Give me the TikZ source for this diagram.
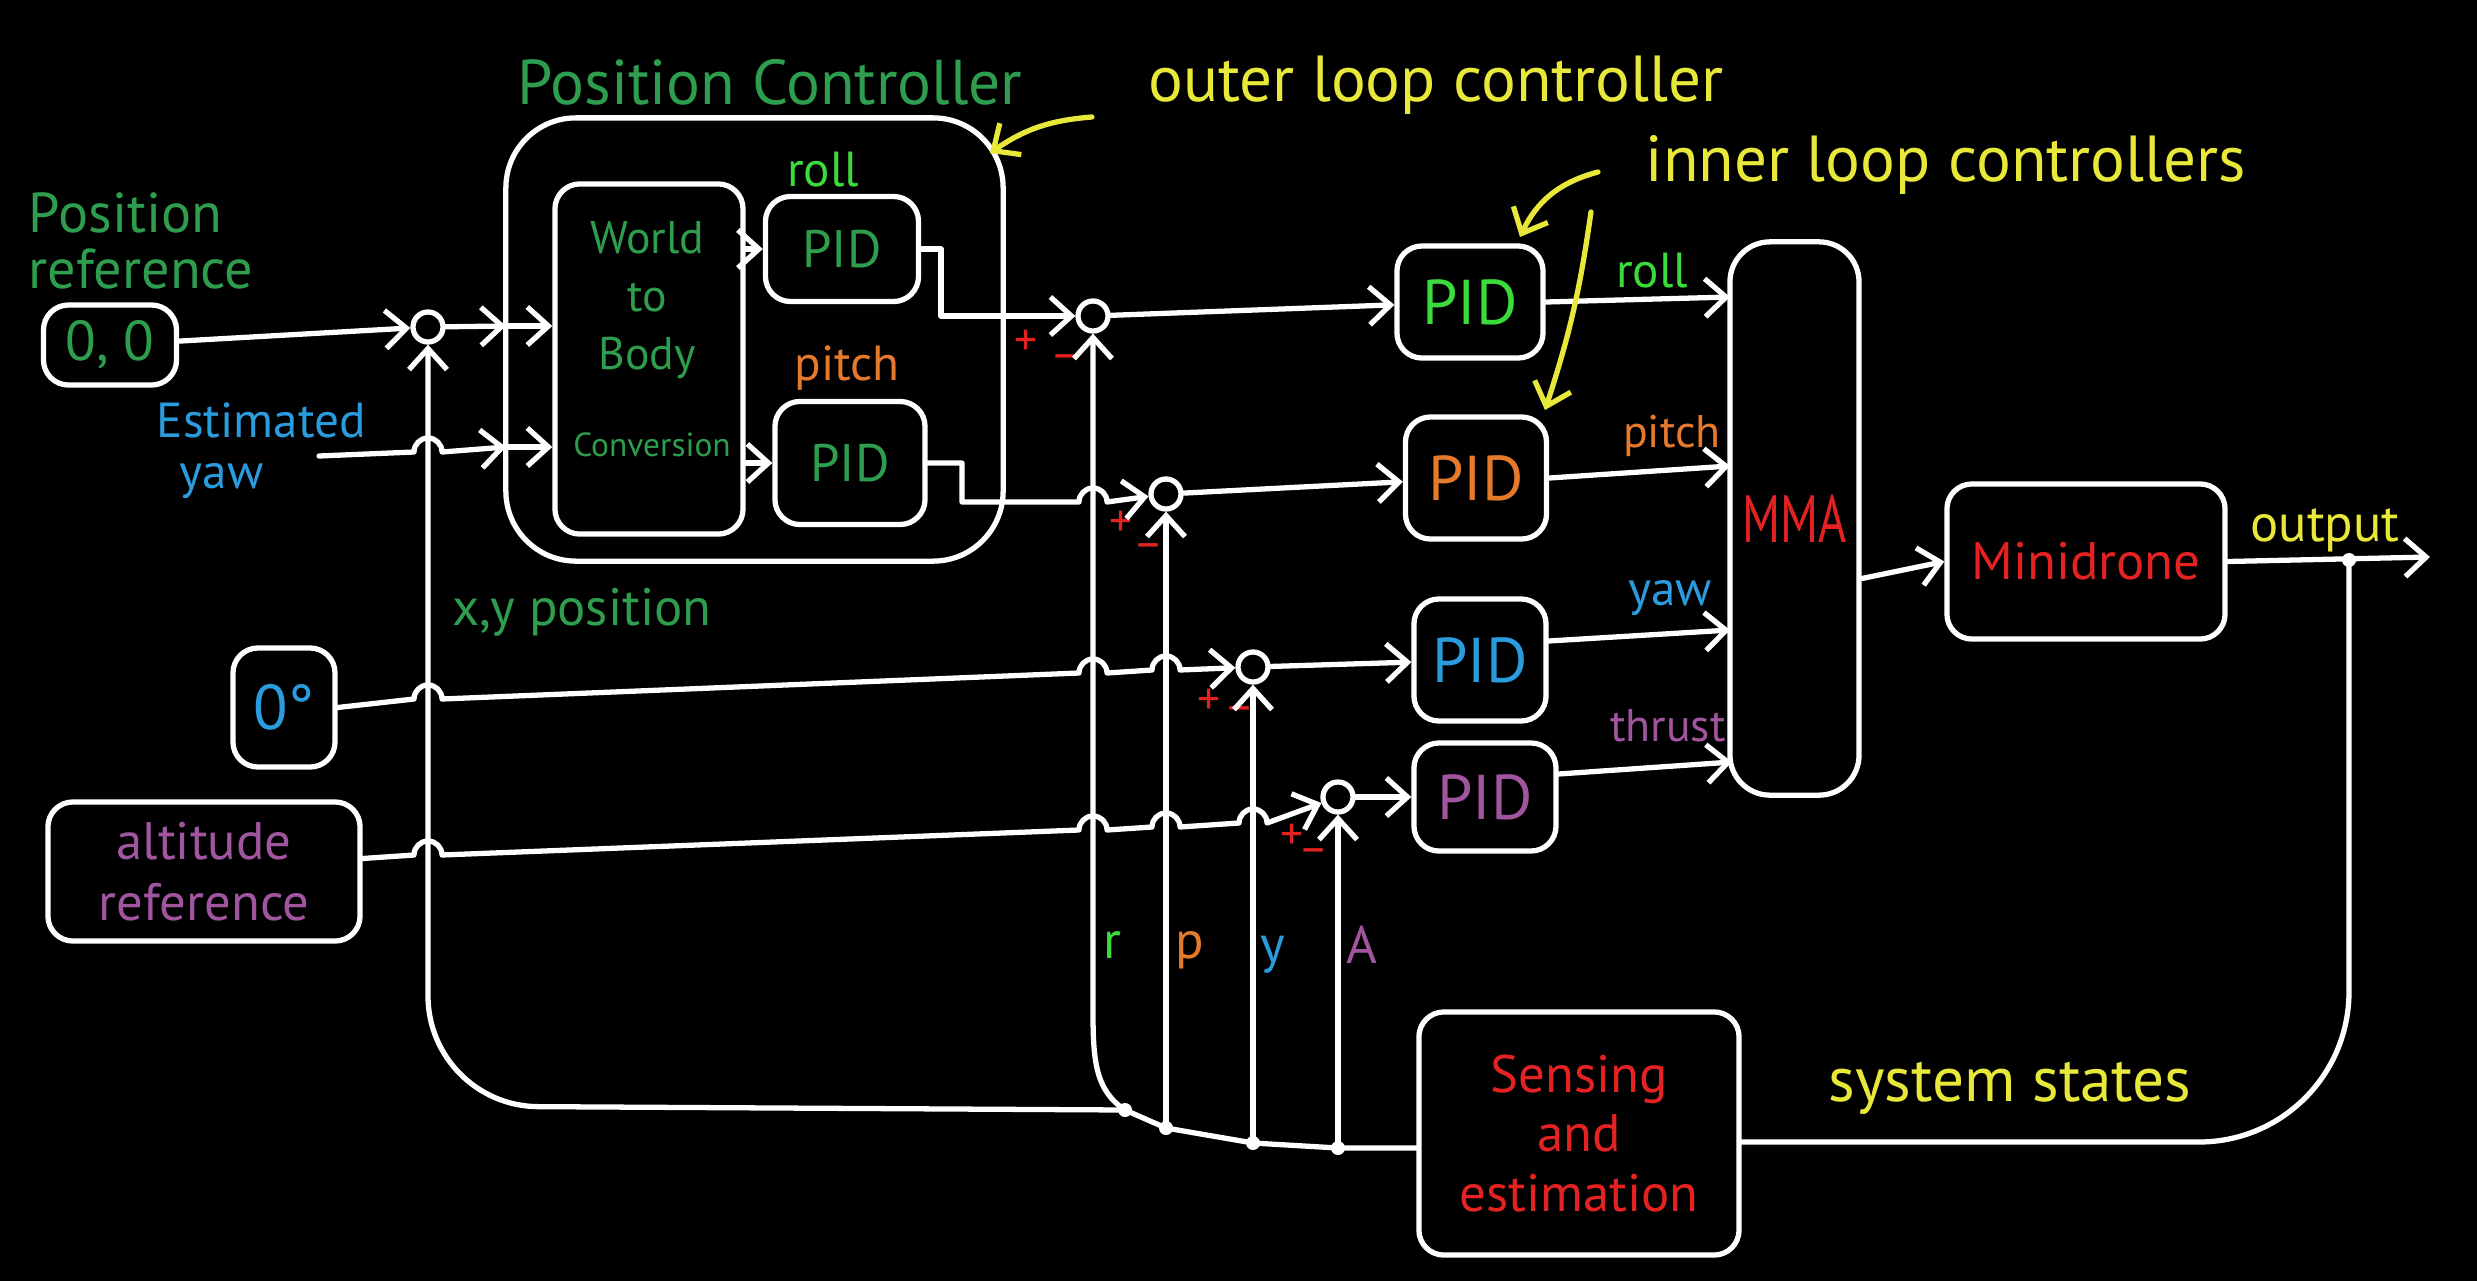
\documentclass[tikz,border=0pt]{standalone}
\usepackage{fontspec}
\usepackage{graphicx}
\setmainfont{PT Sans}
\usetikzlibrary{arrows.meta}
\definecolor{dgreen}{HTML}{2E9E4E}
\definecolor{lgreen}{HTML}{3BDB3B}
\definecolor{orng}{HTML}{E57A2C}
\definecolor{blu}{HTML}{2A9BDD}
\definecolor{purp}{HTML}{A0559E}
\definecolor{rd}{HTML}{E52222}
\definecolor{ylw}{HTML}{E8E83A}
\newcommand\fs[2]{\fontsize{#1}{#2}\selectfont}
\begin{document}
\begin{tikzpicture}[x=0.01cm,y=-0.01cm,
  wire/.style={white,line width=1.5pt,line cap=round,line join=round},
  arr/.style={wire,-{Straight Barb[length=2.1mm,width=3.8mm]}},
  box/.style={draw=white,line width=1.5pt,rounded corners=0.25cm,fill=black,inner sep=0,align=center},
  sumc/.style={circle,draw=white,line width=1.5pt,minimum size=0.3cm,inner sep=0,fill=black},
  dot/.style={circle,fill=white,inner sep=0,minimum size=0.14cm},
  txt/.style={inner sep=0,align=center},
  yarr/.style={ylw,line width=1.5pt,line cap=round,-{Straight Barb[length=2.1mm,width=3.8mm]}},
  pm/.style={text=rd,inner sep=0,font=\fs{13}{15}},
]
\fill[black] (0,0) rectangle (2477,1281);
\useasboundingbox (0,0) rectangle (2477,1281);

% position controller
\node[box,fill=none,rounded corners=0.7cm,minimum width=4.97cm,minimum height=4.43cm] (pc) at (754.5,339.5) {};
\node[txt,text=dgreen,font=\fs{18}{21}] (pctitle) at (770,82) {Position Controller};
\node[box,minimum width=1.88cm,minimum height=3.5cm] (world) at (649,359) {};
\node[txt,text=dgreen,font=\fs{13}{16.5}] (worldt) at (647,300) {World\\to\\Body};
\node[txt,text=dgreen,font=\fs{9.5}{11}] (convt) at (652,445) {Conversion};
\node[box,minimum width=1.53cm,minimum height=1.05cm,text=dgreen,font=\fs{15}{18}] (rollO) at (842,249) {PID};
\node[box,minimum width=1.5cm,minimum height=1.23cm,text=dgreen,font=\fs{15}{18}] (pitchO) at (850,463) {PID};
\node[txt,text=lgreen,font=\fs{14}{16}] (rollOl) at (823,170) {roll};
\node[txt,text=orng,font=\fs{14}{16}] (pitchOl) at (847,368) {pitch};

% references
\node[txt,text=dgreen,font=\fs{16}{16},align=left,anchor=north west] (posref) at (28,192) {Position\\reference};
\node[box,minimum width=1.33cm,minimum height=0.8cm,text=dgreen,font=\fs{16}{18}] (box00) at (110,345) {0, 0};
\node[txt,text=blu,font=\fs{14}{14.5},align=left,anchor=north west] (estyaw) at (156,402) {Estimated\\\hspace*{0.23cm}yaw};
\coordinate (ey) at (319,456);
\node[box,minimum width=1.02cm,minimum height=1.19cm,text=blu,font=\fs{18}{20}] (box0) at (284,707.5) {0°};
\node[box,minimum width=3.12cm,minimum height=1.39cm,text=purp,font=\fs{15}{17.4}] (altbox) at (204,871.5) {altitude\\reference};
\node[txt,text=dgreen,font=\fs{15}{17}] (xypos) at (582,612) {x,y position};

% summing junctions
\node[sumc] (sum1) at (428,327) {};
\node[sumc] (sum2) at (1093,316) {};
\node[sumc] (sum3) at (1166,494) {};
\node[sumc] (sum4) at (1253,667) {};
\node[sumc] (sum5) at (1338,797) {};
\node[pm] at (1026,343) {+}; \node[pm] at (1066,362) {–};
\node[pm] at (1121,524) {+}; \node[pm] at (1149,551) {–};
\node[pm] at (1209,702) {+}; \node[pm] at (1240,714) {–};
\node[pm] at (1292,837) {+}; \node[pm] at (1314,856) {–};

% inner PIDs
\node[box,minimum width=1.46cm,minimum height=1.12cm,text=lgreen,font=\fs{18}{20}] (rollI) at (1470,302) {PID};
\node[box,minimum width=1.41cm,minimum height=1.22cm,text=orng,font=\fs{18}{20}] (pitchI) at (1476,478) {PID};
\node[box,minimum width=1.32cm,minimum height=1.22cm,text=blu,font=\fs{18}{20}] (yawI) at (1480,660) {PID};
\node[box,minimum width=1.42cm,minimum height=1.08cm,text=purp,font=\fs{18}{20}] (thrustI) at (1485,797) {PID};

\node[box,rounded corners=0.4cm,minimum width=1.29cm,minimum height=5.53cm,text=rd,font=\fs{19}{22}] (MMA) at (1794.5,518.5) {\scalebox{0.72}[1]{MMA}};
\node[box,minimum width=2.78cm,minimum height=1.55cm,text=rd,font=\fs{15}{18}] (mini) at (2086,561.5) {Minidrone};
\node[box,minimum width=3.2cm,minimum height=2.43cm,text=rd,font=\fs{15}{17}] (sens) at (1579,1133.5) {Sensing\\and\\estimation};

% labels
\node[txt,text=lgreen,font=\fs{14}{16}] at (1652,271) {roll};
\node[txt,text=orng,font=\fs{13}{15}] at (1672,436) {pitch};
\node[txt,text=blu,font=\fs{14}{16}] at (1670,598) {yaw};
\node[txt,text=purp,font=\fs{13}{15}] at (1668,726) {thrust};
\node[txt,text=ylw,font=\fs{15}{17}] at (2325,530) {output};
\node[txt,text=ylw,font=\fs{18}{21}] at (2010,1088) {system states};
\node[txt,text=ylw,font=\fs{18.5}{21}] (outerl) at (1436,85) {outer loop controller};
\node[txt,text=ylw,font=\fs{18.5}{21}] (innerl) at (1946,165) {inner loop controllers};
\node[txt,text=lgreen,font=\fs{15}{17}] at (1112,945) {r};
\node[txt,text=orng,font=\fs{15}{17}] at (1190,950) {p};
\node[txt,text=blu,font=\fs{15}{17}] at (1273,955) {y};
\node[txt,text=purp,font=\fs{15}{17}] at (1362,945) {A};

% dots
\node[dot] (dout) at (2349,560) {};
\node[dot] (dA) at (1338,1148) {};
\node[dot] (dY) at (1253,1143) {};
\node[dot] (dP) at (1166,1128) {};
\node[dot] (dR) at (1125,1110) {};
\coordinate (fbc) at (2349,1142);
\coordinate (pcin1) at (506,326);
\coordinate (pcin2) at (506,447);

% forward paths
\draw[arr] (box00) -- (sum1);
\draw[arr] (sum1) -- (pcin1);
\draw[arr] (pcin1) -- (world.west |- pcin1);
\draw[arr] (ey) -- (414,452) arc[start angle=180,end angle=0,radius=0.14cm] -- (pcin2);
\draw[arr] (pcin2) -- (world.west |- pcin2);
\draw[arr] (world.east |- rollO) -- (rollO.west);
\draw[arr] (world.east |- pitchO) -- (pitchO.west);
\draw[arr] (rollO.east) -- (941,249) -- (941,316) -- (sum2);
\draw[arr] (pitchO.east) -- (962,463) -- (962,502) -- (1079,502) arc[start angle=180,end angle=0,radius=0.14cm] -- (sum3);
\draw[arr] (sum2) -- (rollI);
\draw[arr] (sum3) -- (pitchI);
\draw[arr] (sum4) -- (yawI);
\draw[arr] (sum5) -- (thrustI);
\draw[arr] (rollI.east) -- (1730,297);
\draw[arr] (pitchI.east) -- (1730,466);
\draw[arr] ([yshift=0.19cm]yawI.east) -- (1730,630);
\draw[arr] ([yshift=0.23cm]thrustI.east) -- (1732,762);
\draw[arr] ([yshift=-0.6cm]MMA.east) -- (mini.west);
\draw[arr] (mini.east) -- (2430,557);
\draw[arr] (box0.east) -- (414,699) arc[start angle=180,end angle=0,radius=0.14cm]
  -- (1079,673) arc[start angle=180,end angle=0,radius=0.14cm]
  -- (1152,670) arc[start angle=180,end angle=0,radius=0.14cm] -- (sum4);
\draw[arr] ([yshift=0.13cm]altbox.east) -- (414,855) arc[start angle=180,end angle=0,radius=0.14cm]
  -- (1079,830) arc[start angle=180,end angle=0,radius=0.14cm]
  -- (1152,827) arc[start angle=180,end angle=0,radius=0.14cm]
  -- (1239,823) arc[start angle=180,end angle=0,radius=0.14cm] -- (sum5);

% feedback
\draw[wire,rounded corners=1.5cm] (dout.center) -- (fbc) -- (sens.east |- fbc);
\draw[wire] (sens.west |- dA) -- (dA.center) -- (dY.center) -- (dP.center) -- (dR.center);
\draw[arr,rounded corners=1.1cm] (dR.center) -- (428,1106) -- (sum1);
\draw[arr] (dA.center) -- (sum5);
\draw[arr] (dY.center) -- (sum4);
\draw[arr] (dP.center) -- (sum3);
\draw[arr] (dR.center) .. controls (1095,1090) and (1093,1060) .. (1093,1010) -- (sum2);

% annotations
\draw[yarr] (1092,117) to[bend right=15] (990,153);
\draw[yarr] (1598,172) to[bend right=25] (1520,237);
\draw[yarr] (1591,212) to[bend left=5] (1545,410);
\end{tikzpicture}
\end{document}
